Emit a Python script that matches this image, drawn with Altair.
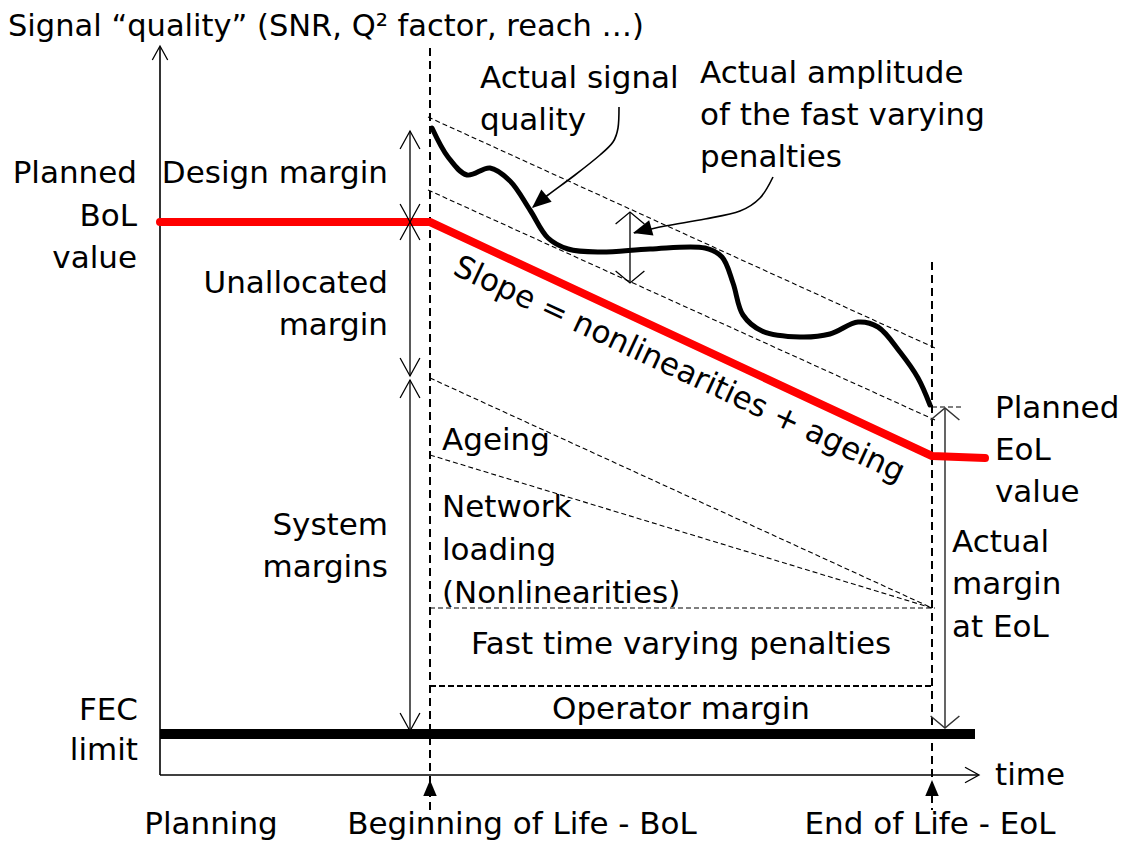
import math
import altair as alt
import pandas as pd

# ---------------- data (diagram coordinates, pixel-like units) ----------------
# straight segments: (x, y, x2, y2)
seg_axes = [(160, 47, 160, 775), (160, 775, 978, 775)]
seg_arrows = [(410, 131, 410, 222), (410, 222, 410, 376), (410, 380, 410, 731), (630, 212, 630, 283)]
seg_grey = [(945, 408, 945, 728)]
seg_vdash = [(430, 48, 430, 810), (932, 262, 932, 810)]
seg_thin_dash = [(428, 117, 935, 348), (428, 190, 935, 420), (430, 378, 932, 608),
                 (430, 455, 932, 608), (430, 608, 935, 608), (932, 407, 962, 407)]
seg_thick_dash = [(430, 686, 932, 686)]
seg_fec = [(160, 734, 975, 734)]

# planned signal quality (red)
red_x = [160, 430, 932, 985]
red_y = [222, 222, 456, 458]

# actual signal quality (black curve)
curve_x = [432, 448, 467, 490, 510, 530, 548, 568, 600, 650, 705, 722, 733, 743, 762,
           800, 830, 858, 878, 900, 918, 930]
curve_y = [128, 157, 175, 168, 181, 210, 238, 249, 252, 249, 248, 257, 283, 315, 331,
           337, 334, 322, 327, 352, 378, 405]

# curved pointers
ptr1_x = [619, 618, 613, 600, 575, 548, 533]
ptr1_y = [107, 128, 142, 155, 175, 195, 207]
ptr2_x = [773, 760, 740, 705, 665, 634]
ptr2_y = [177, 198, 211, 219, 226, 233]

# open arrow heads: (tip x, tip y, dir x, dir y, length)
open_heads = [(160, 46, 0, -1, 14), (979, 775, 1, 0, 14),
              (410, 131, 0, -1, 18), (410, 222, 0, 1, 18),
              (410, 222, 0, -1, 18), (410, 376, 0, 1, 18),
              (410, 380, 0, -1, 18), (410, 731, 0, 1, 18)]
wide_heads = [(630, 212, 0, -1, 12), (630, 283, 0, 1, 12)]
grey_heads = [(945, 408, 0, -1, 12), (945, 728, 0, 1, 12)]
# filled arrow heads
filled_heads = [(532, 208, -1, 0.85, 19), (633, 233, -1, 0.28, 19),
                (430, 780, 0, -1, 16), (932, 780, 0, -1, 16)]

# title
title_text = "Signal \u201cquality\u201d (SNR, Q\u00b2 factor, reach \u2026)"

# text labels: (text, x, baseline y)
txt_left = [("Actual signal", 480, 88), ("quality", 480, 130),
            ("Actual amplitude", 700, 83), ("of the fast varying", 700, 125), ("penalties", 700, 167),
            ("Ageing", 442, 450), ("Network", 442, 517), ("loading", 442, 560), ("(Nonlinearities)", 442, 603),
            ("Planned", 995, 418), ("EoL", 995, 460), ("value", 995, 502),
            ("Actual", 952, 552), ("margin", 952, 594), ("at EoL", 952, 637),
            ("time", 995, 785)]
txt_right = [("Planned", 137, 183), ("BoL", 137, 226), ("value", 137, 268),
             ("Design margin", 388, 183),
             ("Unallocated", 388, 293), ("margin", 388, 335),
             ("System", 388, 535), ("margins", 388, 577),
             ("FEC", 138, 720), ("limit", 138, 760)]
txt_center = [("Fast time varying penalties", 681, 654), ("Operator margin", 681, 719),
              ("Planning", 211, 834), ("Beginning of Life - BoL", 522, 834), ("End of Life - EoL", 930, 834)]
slope_label = ("Slope = nonlinearities + ageing", 679, 370)

FONT = "DejaVu Sans"
FS = 31

# ---------------- scales ----------------
XS = alt.Scale(domain=[8, 1118], nice=False, zero=False)
YS = alt.Scale(domain=[841, 8], nice=False, zero=False)


def X(f="x"):
    return alt.X(f"{f}:Q", scale=XS, axis=None)


def Y(f="y"):
    return alt.Y(f"{f}:Q", scale=YS, axis=None)


def seg_df(segs):
    return pd.DataFrame(segs, columns=["x", "y", "x2", "y2"])


def rules(segs, **kw):
    return alt.Chart(seg_df(segs)).mark_rule(**kw).encode(
        x=X(), y=Y(), x2=alt.X2("x2:Q"), y2=alt.Y2("y2:Q"))


def polyline(xs, ys, **kw):
    df = pd.DataFrame({"x": xs, "y": ys, "i": list(range(len(xs)))})
    return alt.Chart(df).mark_line(**kw).encode(x=X(), y=Y(), order=alt.Order("i:Q"))


def heads_df(heads):
    rows = []
    for (x, y, dx, dy, L) in heads:
        a = math.degrees(math.atan2(dx, -dy)) % 360
        rows.append({"x": x, "y": y, "a": a, "s": (2 * L) ** 2})
    return pd.DataFrame(rows)


CHEVRON = "M-0.55,1L0,0L0.55,1"
WIDE_CHEVRON = "M-1.2,1L0,0L1.2,1"
TRI = "M0,0L0.42,1L-0.42,1Z"


def heads(hs, shape, filled, color, sw=1.3):
    return alt.Chart(heads_df(hs)).mark_point(
        shape=shape, filled=filled, color=color, stroke=color, strokeWidth=sw, opacity=1
    ).encode(x=X(), y=Y(), angle=alt.Angle("a:Q", scale=None), size=alt.Size("s:Q", scale=None))


def texts(items, align, fs=FS):
    df = pd.DataFrame(items, columns=["t", "x", "y"])
    return alt.Chart(df).mark_text(
        align=align, baseline="alphabetic", font=FONT, fontSize=fs, color="black"
    ).encode(x=X(), y=Y(), text="t:N")


layers = [
    rules(seg_thin_dash, color="black", strokeWidth=1.1, strokeDash=[5, 3]),
    rules(seg_thick_dash, color="black", strokeWidth=2, strokeDash=[6, 3]),
    rules(seg_vdash, color="black", strokeWidth=2, strokeDash=[8, 5]),
    rules(seg_axes, color="black", strokeWidth=1.6),
    rules(seg_arrows, color="black", strokeWidth=1.3),
    rules(seg_grey, color="#555555", strokeWidth=1.8),
    rules(seg_fec, color="black", strokeWidth=10),
    polyline(red_x, red_y, color="#ff0000", strokeWidth=8, strokeCap="round", strokeJoin="round"),
    polyline(curve_x, curve_y, color="black", strokeWidth=5, interpolate="catmull-rom",
             strokeCap="round", strokeJoin="round"),
    polyline(ptr1_x, ptr1_y, color="black", strokeWidth=1.6, interpolate="cardinal"),
    polyline(ptr2_x, ptr2_y, color="black", strokeWidth=1.6, interpolate="cardinal"),
    heads(open_heads, CHEVRON, False, "black", 1.3),
    heads(wide_heads, WIDE_CHEVRON, False, "black", 1.3),
    heads(grey_heads, WIDE_CHEVRON, False, "#333333", 1.5),
    heads(filled_heads, TRI, True, "black", 0),
    texts([(title_text, 8, 36)], "left", 30.5),
    texts(txt_left, "left"),
    texts(txt_right, "right"),
    texts(txt_center, "center"),
    alt.Chart(pd.DataFrame([slope_label], columns=["t", "x", "y"])).mark_text(
        align="center", baseline="middle", angle=25, font=FONT, fontSize=FS, color="black"
    ).encode(x=X(), y=Y(), text="t:N"),
]

chart = alt.layer(*layers).properties(
    width=1110, height=833, autosize=alt.AutoSizeParams(type="none"), padding=0,
    background="white"
).configure_view(stroke=None)

chart.save("out.html", embed_options={"renderer": "svg", "actions": False})
